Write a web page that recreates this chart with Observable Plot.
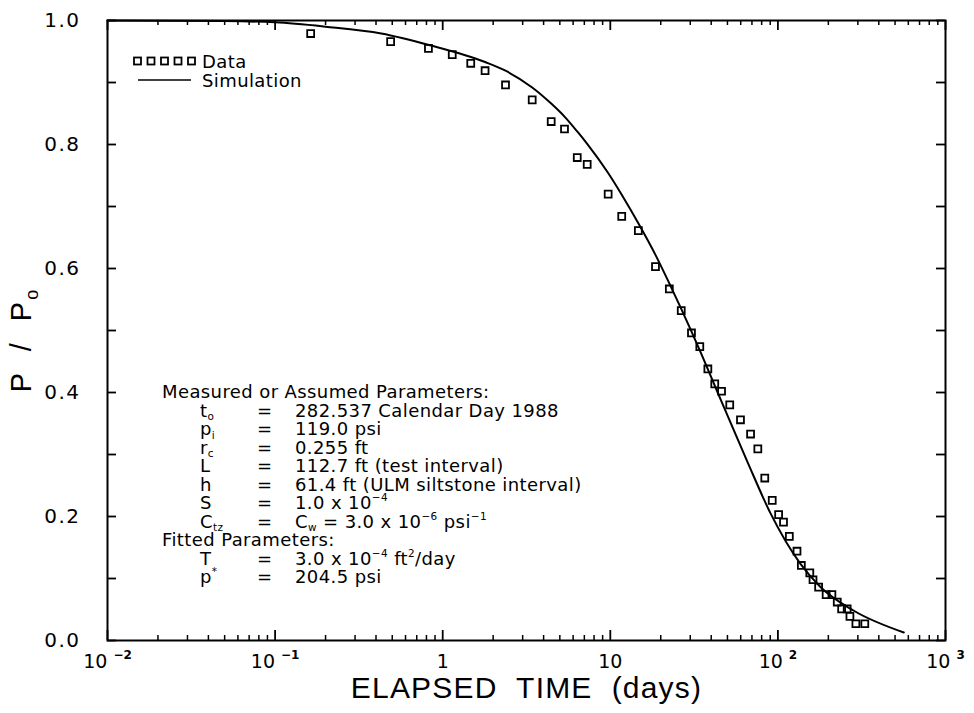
<!DOCTYPE html>
<html>
<head>
<meta charset="utf-8">
<script src="https://cdn.jsdelivr.net/npm/d3@7"></script>
<script src="https://cdn.jsdelivr.net/npm/@observablehq/plot@0.6"></script>
<style>
  html, body { margin: 0; padding: 0; background: #fff; }
  #chart svg { display: block; }
</style>
</head>
<body>
<div id="chart"></div>
<script>
// Measured pressure ratio P/P0 against elapsed time (days)
const dataTime = [0.163, 0.489, 0.822, 1.14, 1.47, 1.79, 2.37, 3.42, 4.44, 5.33, 6.35, 7.28,
  9.71, 11.7, 14.7, 18.6, 22.5, 26.5, 30.5, 34.2, 38.2, 42.0, 46.1, 51.6, 59.8, 68.7, 75.9,
  83.5, 92.5, 101, 108, 117, 130, 138, 155, 162, 175, 194, 210, 226, 240, 259, 269, 292, 330];
const dataRatio = [0.979, 0.966, 0.955, 0.945, 0.931, 0.919, 0.896, 0.872, 0.837, 0.825, 0.779, 0.768,
  0.720, 0.684, 0.661, 0.603, 0.567, 0.532, 0.496, 0.474, 0.438, 0.414, 0.402, 0.380, 0.356, 0.333, 0.309,
  0.262, 0.226, 0.203, 0.191, 0.168, 0.144, 0.121, 0.109, 0.098, 0.086, 0.074, 0.074, 0.062, 0.051, 0.051, 0.039, 0.027, 0.027];

// Simulated response
const simTime = [0.01, 0.05, 0.1, 0.2, 0.43, 0.84, 1.79, 2.37, 3.42, 4.44, 5.33, 6.35, 7.28,
  9.71, 11.7, 14.7, 18.6, 22.5, 26.5, 34.2, 43.4, 65.6, 90.4, 136, 180, 284, 564];
const simRatio = [1.000, 0.999, 0.997, 0.990, 0.979, 0.960, 0.933, 0.919, 0.892, 0.866, 0.845, 0.821, 0.801,
  0.754, 0.719, 0.673, 0.622, 0.576, 0.535, 0.468, 0.402, 0.289, 0.205, 0.124, 0.086, 0.048, 0.013];

// Axis ticks
const xMajor = [0.01, 0.1, 1, 10, 100, 1000];
const xMajorBase = ["10", "10", "1", "10", "10", "10"];
const xMajorExp = ["\u22122", "\u22121", "", "", "2", "3"];
const xMinor = [];
for (const dec of [0.01, 0.1, 1, 10, 100]) for (let k = 2; k <= 9; k++) xMinor.push(+(dec * k).toPrecision(3));
const yTicks = [0, 0.1, 0.2, 0.3, 0.4, 0.5, 0.6, 0.7, 0.8, 0.9, 1.0];
const yLabelTicks = [0, 0.2, 0.4, 0.6, 0.8, 1.0];

// Legend and parameter block text
const legendLabels = ["Data", "Simulation"];
const paramHeaders = ["Measured or Assumed Parameters:", "Fitted Parameters:"];
const paramRows = [
  {row: 1, sym: [["t"], ["o", "sub"]], val: [["282.537 Calendar Day 1988"]]},
  {row: 2, sym: [["p"], ["i", "sub"]], val: [["119.0 psi"]]},
  {row: 3, sym: [["r"], ["c", "sub"]], val: [["0.255 ft"]]},
  {row: 4, sym: [["L"]], val: [["112.7 ft (test interval)"]]},
  {row: 5, sym: [["h"]], val: [["61.4 ft (ULM siltstone interval)"]]},
  {row: 6, sym: [["S"]], val: [["1.0 x 10"], ["\u22124", "sup"]]},
  {row: 7, sym: [["C"], ["tz", "sub"]], val: [["C"], ["w", "sub"], [" = 3.0 x 10"], ["\u22126", "sup"], [" psi"], ["\u22121", "sup"]]},
  {row: 9, sym: [["T"]], val: [["3.0 x 10"], ["\u22124", "sup"], [" ft"], ["2", "sup"], ["/day"]]},
  {row: 10, sym: [["p"], ["*", "sup"]], val: [["204.5 psi"]]}
];

const W = 974, H = 713;
const mL = 107, mR = 29, mT = 20, mB = 73;
const innerW = W - mL - mR, innerH = H - mT - mB;
const FONT = "'DejaVu Sans', Verdana, sans-serif";
const TITLE_FONT = "'Liberation Sans', Arial, Helvetica, sans-serif";

const plot = Plot.plot({
  width: W,
  height: H,
  marginLeft: mL, marginRight: mR, marginTop: mT, marginBottom: mB,
  style: {fontFamily: FONT, fontSize: "19px", background: "#fff", color: "#000", overflow: "visible"},
  x: {type: "log", domain: [0.01, 1000]},
  y: {domain: [0, 1]},
  marks: [
    // inward ticks on all four sides
    Plot.tickX(xMinor, {x: d => d, insetTop: innerH - 5, stroke: "#000", strokeWidth: 1.5}),
    Plot.tickX(xMinor, {x: d => d, insetBottom: innerH - 5, stroke: "#000", strokeWidth: 1.5}),
    Plot.tickX(xMajor, {x: d => d, insetTop: innerH - 10, stroke: "#000", strokeWidth: 1.8}),
    Plot.tickX(xMajor, {x: d => d, insetBottom: innerH - 10, stroke: "#000", strokeWidth: 1.8}),
    Plot.tickY(yTicks, {y: d => d, insetRight: innerW - 9, stroke: "#000", strokeWidth: 1.8}),
    Plot.tickY(yTicks, {y: d => d, insetLeft: innerW - 9, stroke: "#000", strokeWidth: 1.8}),
    Plot.axisY({ticks: yLabelTicks, tickSize: 0, tickPadding: 27, tickFormat: d => d.toFixed(1), label: null}),
    Plot.axisX({ticks: xMajor, tickSize: 0, tickPadding: 14,
      tickFormat: d => {
        const k = xMajor.indexOf(d);
        return xMajorBase[k] + "|" + xMajorExp[k];
      }, label: null}),
    Plot.text(["ELAPSED  TIME  (days)"], {frameAnchor: "bottom", dy: 57, fontSize: 30, text: d => d,
      fontFamily: TITLE_FONT}),
    Plot.line(simTime, {x: d => d, y: (d, i) => simRatio[i], curve: "monotone-x", stroke: "#000", strokeWidth: 2}),
    Plot.dot(dataTime, {x: d => d, y: (d, i) => dataRatio[i], symbol: "square", r: 3.9, stroke: "#000", strokeWidth: 1.8, fill: "none"}),
    Plot.frame({stroke: "#000", strokeWidth: 2})
  ]
});

document.getElementById("chart").appendChild(plot);
const svg = d3.select(plot);

// loosen the axis title and y tick labels
svg.selectAll("text").filter(function () { return d3.select(this).text().startsWith("ELAPSED"); })
  .attr("letter-spacing", 1.2).attr("xml:space", "preserve");
svg.selectAll('g[aria-label="y-axis tick label"] text').attr("letter-spacing", 1.5).attr("font-size", 20);

// text with sub/superscript pieces
function rich(parent, x, y, parts, size, anchor = "start") {
  const t = parent.append("text").attr("x", x).attr("y", y).attr("font-size", size)
    .attr("text-anchor", anchor).attr("fill", "#000").attr("font-family", FONT)
    .attr("letter-spacing", 0.4);
  let shift = 0;
  for (const [s, kind] of parts) {
    const ts = t.append("tspan").text(s);
    let target = 0;
    if (kind === "sub") { ts.attr("font-size", size * 0.58); target = size * 0.22; }
    else if (kind === "sup") { ts.attr("font-size", size * 0.58); target = -size * 0.42; }
    if (target - shift !== 0) ts.attr("dy", target - shift);
    shift = target;
  }
  return t;
}

// x tick labels with raised exponents
svg.selectAll('g[aria-label="x-axis tick label"] text').each(function () {
  const el = d3.select(this);
  const [base, exp] = el.text().split("|");
  el.text(null).attr("font-size", 19);
  el.append("tspan").text(base);
  if (exp) el.append("tspan").attr("dx", 6).attr("dy", -9).attr("font-size", 12).attr("font-weight", "bold").text(exp);
});

// y axis title
const yTitle = svg.append("text")
  .attr("transform", `translate(31, ${mT + innerH / 2 + 10}) rotate(-90)`)
  .attr("text-anchor", "middle").attr("font-size", 29).attr("font-family", TITLE_FONT)
  .attr("fill", "#000").attr("letter-spacing", 2).attr("xml:space", "preserve");
yTitle.append("tspan").text("P  /  P");
yTitle.append("tspan").attr("font-size", 18).attr("dy", 7).text("o");

// legend
const lg = svg.append("g");
const legendY = [mT + 41, mT + 60];
for (let k = 0; k < 5; k++) {
  lg.append("rect").attr("x", mL + 27 + k * 13.5).attr("y", legendY[0] - 3.5)
    .attr("width", 7).attr("height", 7).attr("fill", "none").attr("stroke", "#000").attr("stroke-width", 1.8);
}
lg.append("line").attr("x1", mL + 31).attr("x2", mL + 84).attr("y1", legendY[1]).attr("y2", legendY[1])
  .attr("stroke", "#000").attr("stroke-width", 1.6);
legendLabels.forEach((s, i) => rich(lg, mL + 95, legendY[i] + 6.5, [[s]], 18));

// parameter block
const pg = svg.append("g");
const rowY = r => 398 + 18.5 * r;
rich(pg, 162, rowY(0), [[paramHeaders[0]]], 18);
rich(pg, 162, rowY(8), [[paramHeaders[1]]], 18);
for (const p of paramRows) {
  rich(pg, 200, rowY(p.row), p.sym, 18);
  rich(pg, 257, rowY(p.row), [["="]], 18);
  rich(pg, 295, rowY(p.row), p.val, 18);
}
</script>
</body>
</html>
